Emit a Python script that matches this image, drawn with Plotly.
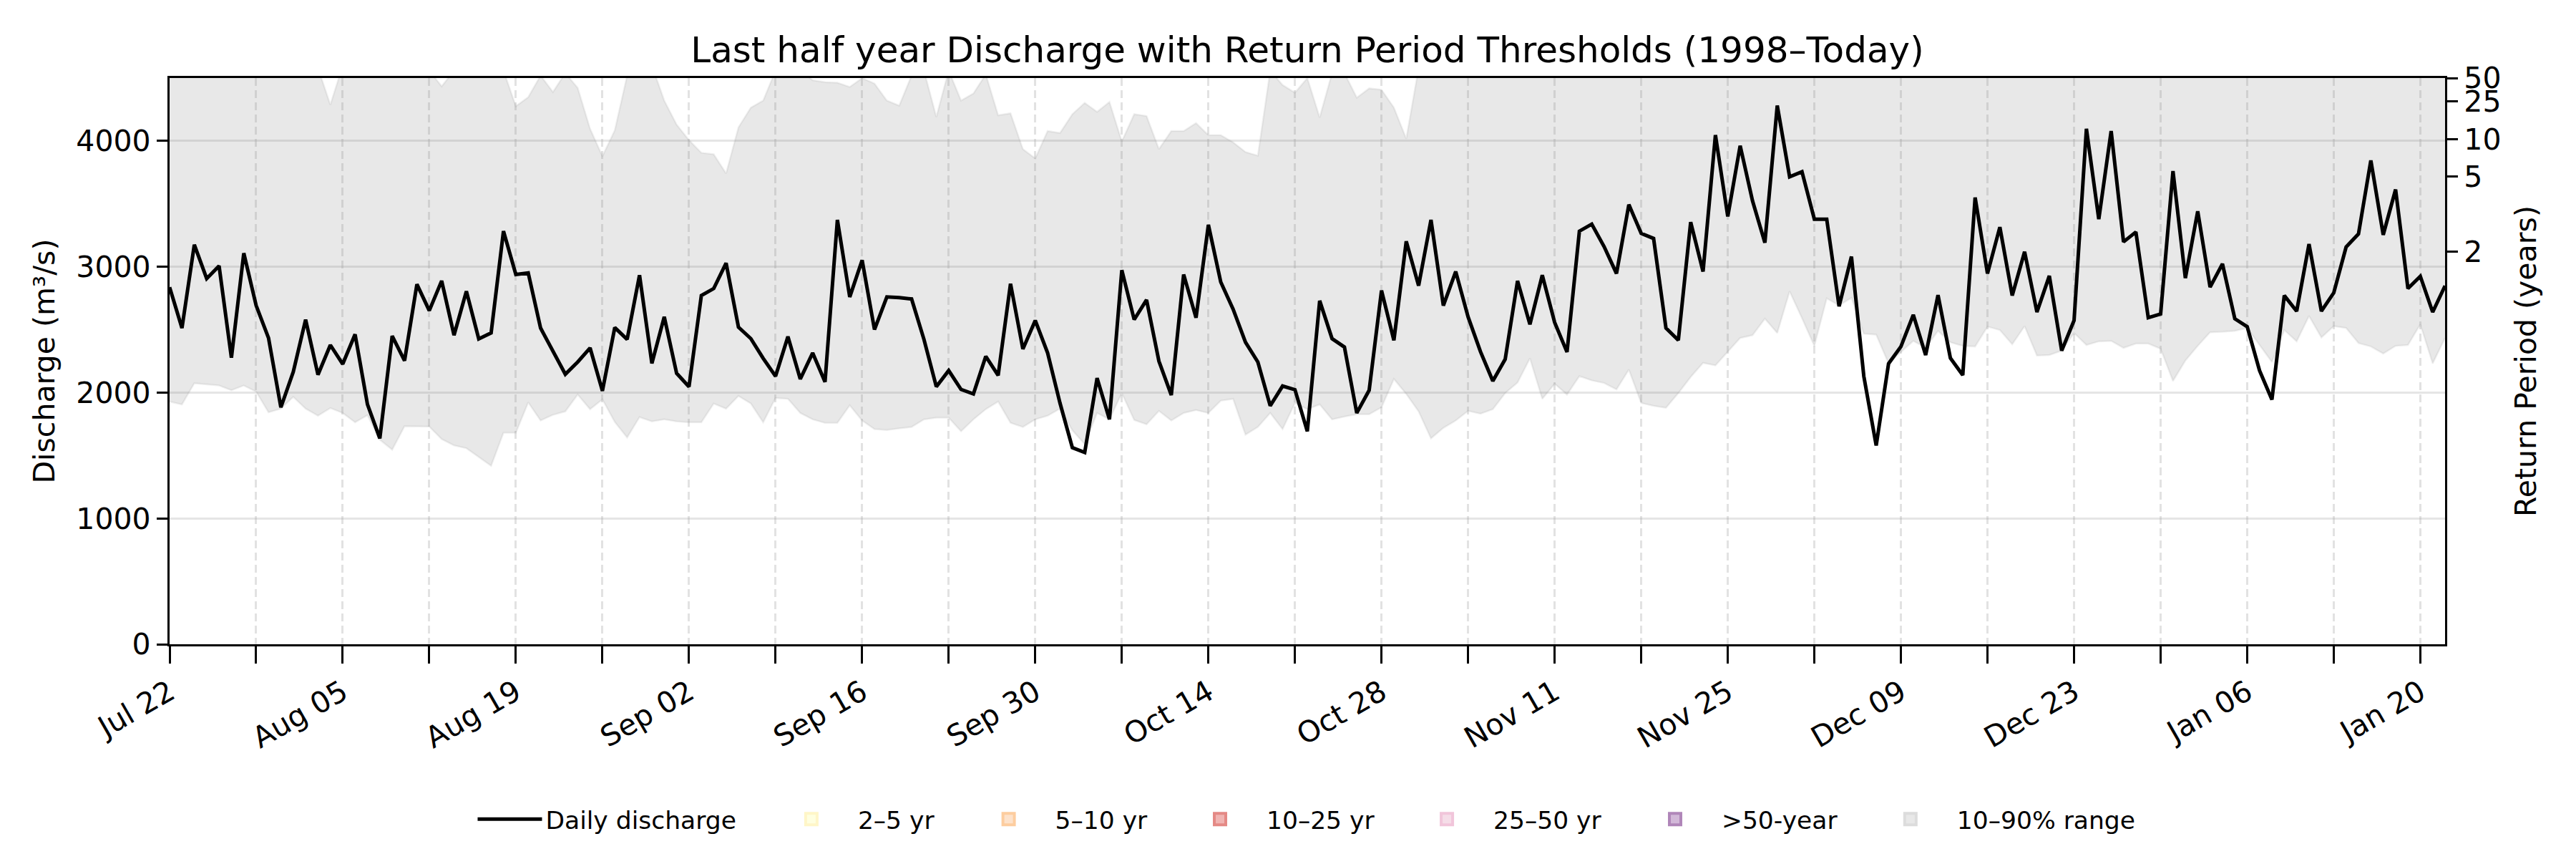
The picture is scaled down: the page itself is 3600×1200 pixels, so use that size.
import pandas as pd
import plotly.graph_objects as go

# Last half year of daily discharge (m3/s), starting 22 July
start_date = "2024-07-22"

discharge = [
    2838, 2513, 3175, 2906, 3007, 2277, 3108, 2692, 2434, 1883,
    2164, 2580, 2142, 2378, 2227, 2463, 1906, 1636, 2450, 2254,
    2861, 2652, 2888, 2456, 2805, 2427, 2474, 3283, 2939, 2951,
    2513, 2333, 2146, 2243, 2355, 2014, 2517, 2423, 2933, 2232,
    2602, 2153, 2047, 2771, 2827, 3029, 2520, 2429, 2272, 2130,
    2445, 2108, 2315, 2085, 3373, 2760, 3052, 2501, 2760, 2755,
    2744, 2423, 2047, 2175, 2025, 1989, 2288, 2137, 2865, 2346,
    2573, 2315, 1917, 1562, 1524, 2115, 1787, 2973, 2580, 2737,
    2250, 1980, 2939, 2595, 3333, 2879, 2663, 2400, 2243, 1895,
    2052, 2023, 1692, 2730, 2429, 2362, 1838, 2018, 2811, 2416,
    3202, 2850, 3373, 2692, 2962, 2602, 2326, 2092, 2265, 2888,
    2542, 2933, 2558, 2322, 3283, 3339, 3160, 2946, 3494, 3265,
    3225, 2513, 2416, 3355, 2962, 4047, 3400, 3962, 3524, 3191,
    4281, 3715, 3755, 3378, 3378, 2686, 3081, 2130, 1580, 2230,
    2366, 2618, 2299, 2775, 2274, 2139, 3551, 2946, 3315, 2771,
    3119, 2640, 2928, 2333, 2573, 4097, 3378, 4079, 3198, 3276,
    2595, 2625, 3760, 2910, 3441, 2838, 3023, 2587, 2524, 2175,
    1944, 2771, 2647, 3180, 2647, 2793, 3157, 3261, 3845, 3254,
    3614, 2827, 2924, 2640, 2849,
]

# climatological 10th percentile (1998-today) for the same days
q10 = [
    1928, 1906, 2074, 2063, 2056, 2018, 2056, 2007, 1843, 1872,
    1966, 1872, 1816, 1877, 1838, 1764, 1820, 1625, 1546, 1733,
    1733, 1730, 1630, 1580, 1558, 1490, 1418, 1681, 1681, 1922,
    1778, 1823, 1850, 1984, 1868, 1946, 1766, 1643, 1805, 1771,
    1787, 1771, 1764, 1764, 1913, 1872, 1973, 1913, 1764, 1957,
    1950, 1838, 1787, 1760, 1760, 1899, 1778, 1710, 1703, 1715,
    1726, 1787, 1800, 1800, 1692, 1787, 1868, 1928, 1760, 1726,
    1787, 1816, 1872, 1700, 1590, 1838, 1787, 1996, 1782, 1748,
    1854, 1778, 1838, 1861, 1838, 1935, 1950, 1665, 1726, 1838,
    1710, 1917, 1868, 1906, 1787, 1809, 1827, 1827, 1883, 2108,
    1989, 1850, 1636, 1719, 1778, 1854, 1832, 1868, 1996, 2079,
    2272, 1950, 2070, 1984, 2130, 2097, 2076, 2025, 2182, 1917,
    1895, 1879, 1996, 2124, 2236, 2216, 2322, 2434, 2456, 2587,
    2474, 2805, 2591, 2371, 2749, 2692, 2753, 2468, 2461, 2232,
    2322, 2411, 2355, 2490, 2400, 2371, 2366, 2524, 2497, 2384,
    2528, 2294, 2299, 2333, 2474, 2378, 2407, 2411, 2355, 2389,
    2389, 2348, 2092, 2254, 2371, 2479, 2483, 2490, 2513, 2378,
    2243, 2497, 2407, 2609, 2438, 2528, 2513, 2393, 2366, 2310,
    2371, 2378, 2542, 2232, 2434,
]

# climatological 90th percentile (goes above the plotted range in places)
q90 = [
    4700, 4750, 4800, 4750, 4700, 4650, 4700, 4750, 4700, 4650,
    4700, 4650, 4580, 4288, 4600, 4700, 4750, 4700, 4650, 4700,
    4650, 4560, 4434, 4560, 4650, 4700, 4650, 4560, 4276, 4348,
    4520, 4389, 4540, 4422, 4097, 3879, 4085, 4520, 4650, 4600,
    4321, 4130, 4007, 3906, 3894, 3742, 4108, 4265, 4321, 4560,
    4600, 4560, 4483, 4467, 4463, 4429, 4500, 4456, 4321, 4281,
    4520, 4560, 4191, 4560, 4321, 4377, 4530, 4204, 4220, 3935,
    3861, 4079, 4063, 4213, 4303, 4231, 4310, 3996, 4213, 4198,
    3935, 4079, 4079, 4142, 4047, 4047, 3989, 3912, 3883, 4560,
    4445, 4384, 4500, 4186, 4540, 4540, 4344, 4418, 4407, 4265,
    4018, 4580, 4620, 4700, 4800, 4850, 4750, 4700, 4800, 4900,
    4850, 4800, 4750, 4850, 4950, 5000, 4950, 4900, 5000, 5050,
    5000, 4950, 4900, 5000, 5100, 5150, 5100, 5200, 5150, 5100,
    5250, 5200, 5150, 5100, 5050, 5000, 4950, 4900, 4850, 4800,
    4850, 4900, 4850, 4950, 4900, 4850, 5000, 4950, 5000, 4900,
    4950, 4900, 4950, 4900, 4950, 5100, 5000, 5100, 4950, 5000,
    4900, 4950, 5050, 4950, 5000, 4950, 5000, 4900, 4850, 4800,
    4800, 4900, 4850, 4950, 4900, 4950, 5000, 5000, 5100, 5000,
    5050, 4950, 4950, 4900, 4950,
]

# return period thresholds (discharge in m3/s)
rp_years = ["2", "5", "10", "25", "50"]
rp_thresholds = [3120, 3715, 4012, 4315, 4500]

band_labels = ["2–5 yr", "5–10 yr", "10–25 yr", "25–50 yr", ">50-year"]
band_fill = ["#ffffe0", "#fde2cb", "#f0b4b2", "#f5dde8", "#d2b8d8"]
band_edge = ["#fff6c8", "#fdcd9f", "#e48985", "#f1c5da", "#b086b9"]

dates = pd.date_range(start_date, periods=len(discharge), freq="D")
DAY_MS = 86400000
FONT = "DejaVu Sans"
vgrid = "rgba(150,150,150,0.28)"

# the page body adds an 8px margin, so the figure is a bit smaller than the window
W, H = 3584, 1184

fig = go.Figure()

# 10-90% band
fig.add_trace(go.Scatter(
    x=dates, y=q10, mode="lines",
    line=dict(color="rgba(128,128,128,0.12)", width=2.5),
    showlegend=False, hoverinfo="skip",
))
fig.add_trace(go.Scatter(
    x=dates, y=q90, mode="lines", fill="tonexty",
    fillcolor="rgba(128,128,128,0.18)",
    line=dict(color="rgba(128,128,128,0.12)", width=2.5),
    showlegend=False, hoverinfo="skip",
))

# daily discharge
fig.add_trace(go.Scatter(
    x=dates, y=discharge, mode="lines", name="Daily discharge",
    line=dict(color="black", width=5), legend="legend",
))

# legend patches for the return period bands, one legend box each so the
# spacing follows the original row
legend_names = ["legend2", "legend3", "legend4", "legend5", "legend6"]
for i, label in enumerate(band_labels):
    fig.add_trace(go.Scatter(
        x=[None], y=[None], mode="markers", name=label, yaxis="y2",
        marker=dict(symbol="square", size=16, color=band_fill[i],
                    line=dict(color=band_edge[i], width=4)),
        legend=legend_names[i],
    ))
fig.add_trace(go.Scatter(
    x=[None], y=[None], mode="markers", name="10–90% range", yaxis="y2",
    marker=dict(symbol="square", size=16, color="#e8e8e8",
                line=dict(color="#dcdcdc", width=4)),
    legend="legend7",
))

legend_x = [0.1338, 0.2616, 0.3483, 0.4412, 0.5409, 0.6412, 0.7446]
legend_w = [90, 120, 120, 120, 120, 120, 120]
legend_style = dict(
    orientation="h", xanchor="left", xref="paper",
    y=-0.309, yanchor="middle",
    font=dict(size=34.5, family=FONT, color="black"),
    bgcolor="rgba(0,0,0,0)", traceorder="normal",
)
legends = {}
for i, lx in enumerate(legend_x):
    key = "legend" if i == 0 else "legend%d" % (i + 1)
    legends[key] = dict(legend_style, x=lx, itemwidth=legend_w[i])

fig.update_layout(
    width=W, height=H,
    margin=dict(l=229, r=175, t=101, b=292, autoexpand=False),
    paper_bgcolor="white", plot_bgcolor="white",
    font=dict(family=FONT, color="black", size=41),
    title=dict(
        text="Last half year Discharge with Return Period Thresholds (1998–Today)",
        font=dict(size=50, family=FONT, color="black"),
        x=0.5, xref="paper", xanchor="center",
        y=1 - 61 / H, yref="container", yanchor="middle",
    ),
    xaxis=dict(
        type="date", range=[dates[0], dates[-1]],
        tick0=start_date, dtick=14 * DAY_MS, tickformat="%b %d",
        tickangle=-30, tickfont=dict(size=41),
        ticks="outside", ticklen=24, tickwidth=3, tickcolor="black",
        showline=True, linecolor="black", linewidth=3.3, mirror=True,
        showgrid=True, gridcolor=vgrid, gridwidth=2.5, griddash="11px,6px",
        minor=dict(tick0=start_date, dtick=7 * DAY_MS, ticks="outside",
                   ticklen=24, tickwidth=3, tickcolor="black",
                   showgrid=True, gridcolor=vgrid, gridwidth=2.5,
                   griddash="11px,6px"),
        zeroline=False, automargin=False,
    ),
    yaxis=dict(
        range=[0, 4500], tickvals=[0, 1000, 2000, 3000, 4000],
        tickfont=dict(size=41),
        ticks="outside", ticklen=15, tickwidth=3, tickcolor="black",
        showline=True, linecolor="black", linewidth=3.3,
        showgrid=True, gridcolor="rgba(170,170,170,0.3)", gridwidth=3,
        zeroline=False, automargin=False,
        title=dict(text="Discharge (m³/s)", font=dict(size=41), standoff=17),
    ),
    yaxis2=dict(
        overlaying="y", side="right", range=[0, 4500],
        tickvals=rp_thresholds, ticktext=rp_years,
        tickfont=dict(size=41),
        ticks="outside", ticklen=15, tickwidth=3, tickcolor="black",
        showline=True, linecolor="black", linewidth=3.3,
        showgrid=False, zeroline=False, automargin=False,
        title=dict(text="Return Period (years)", font=dict(size=41), standoff=21),
    ),
    showlegend=True,
    **legends,
)

fig.write_html("out.html")
